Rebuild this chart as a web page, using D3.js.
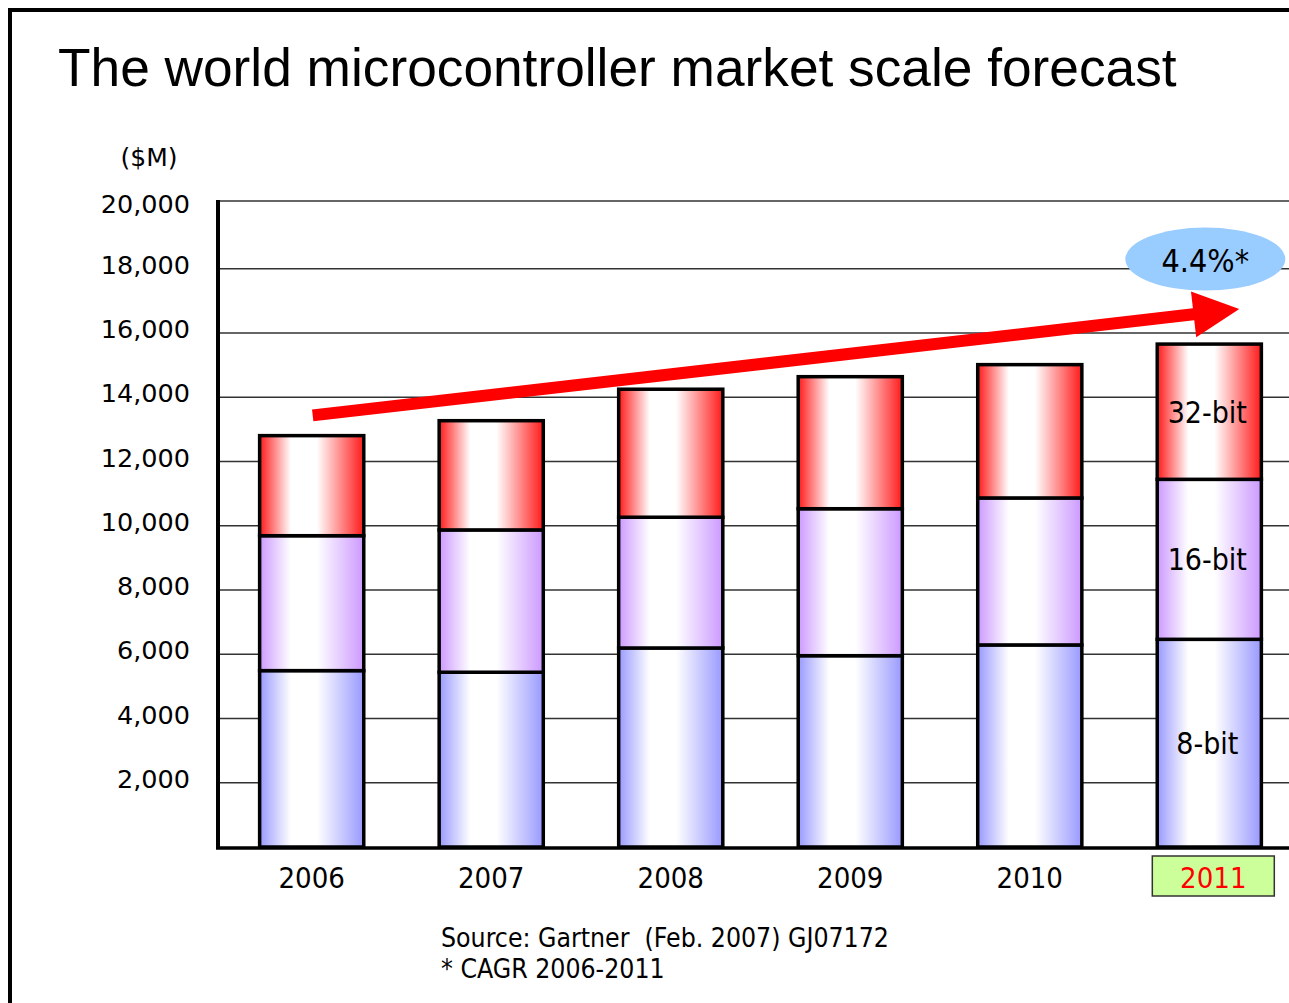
<!DOCTYPE html>
<html>
<head>
<meta charset="utf-8">
<script src="https://cdn.jsdelivr.net/npm/d3@7"></script>
<style>
  html, body { margin: 0; padding: 0; background: #ffffff; }
  svg { display: block; }
  .cond { font-family: "DejaVu Sans Condensed", "DejaVu Sans", sans-serif; font-stretch: condensed; }
  .reg { font-family: "DejaVu Sans", sans-serif; }
  .title { font-family: "Liberation Sans", Arial, sans-serif; }
</style>
</head>
<body>
<svg id="chart" width="1289" height="1003"></svg>
<script>
// Microcontroller market by core width, $M (Gartner, Feb. 2007)
const years = ["2006", "2007", "2008", "2009", "2010", "2011"];
const bit8  = [5490, 5440, 6195, 5955, 6290, 6465];
const bit16 = [4200, 4430, 4070, 4575, 4575, 4980];
const bit32 = [3115, 3400, 3985, 4110, 4150, 4210];
const seriesNames = ["8-bit", "16-bit", "32-bit"];
const yTicks = [2000, 4000, 6000, 8000, 10000, 12000, 14000, 16000, 18000, 20000];
const cagrLabel = "4.4%*";
const highlightYear = "2011";
const titleText = "The world microcontroller market scale forecast";
const unitLabel = "($M)";
const sourceLines = ["Source: Gartner  (Feb. 2007) GJ07172", "* CAGR 2006-2011"];

const W = 1289, H = 1003;
const svg = d3.select("#chart");

const rows = years.map((y, i) => ({ year: y, "8-bit": bit8[i], "16-bit": bit16[i], "32-bit": bit32[i] }));
const stacked = d3.stack().keys(seriesNames)(rows);

const x = d3.scaleBand().domain(years).range([217, 1304]).paddingInner(0.42).paddingOuter(0.2375);
const y = d3.scaleLinear().domain([0, 20000]).range([847, 204.5]);
const cx = d => x(d) + x.bandwidth() / 2;
const plotTop = 201;

// Horizontal cylinder-like gradients for each series
const defs = svg.append("defs");
const gradColors = { "8-bit": "#9999ff", "16-bit": "#cc99ff", "32-bit": "#ff1a1a" };
seriesNames.forEach((k, i) => {
  const g = defs.append("linearGradient").attr("id", "grad" + i)
    .attr("x1", "0").attr("x2", "1").attr("y1", "0").attr("y2", "0");
  const c = gradColors[k];
  [[0, c], [0.3, "#ffffff"], [0.55, "#ffffff"], [1, c]].forEach(s => {
    g.append("stop").attr("offset", s[0]).attr("stop-color", s[1]);
  });
});

// Outer frame (top and left edges)
svg.append("path").attr("d", `M10,${H} V10 H${W}`)
  .attr("fill", "none").attr("stroke", "#000").attr("stroke-width", 4);

// Title, sized to its measured width
const title = svg.append("text").attr("class", "title")
  .attr("x", 58).attr("y", 86).attr("font-size", 53).attr("fill", "#000").text(titleText);
const tw = title.node().getComputedTextLength();
if (tw > 0) title.attr("font-size", 53 * 1119 / tw);

// Gridlines (the top one doubles as the plot-area border)
svg.append("g").selectAll("line").data(yTicks).join("line")
  .attr("x1", 217).attr("x2", W)
  .attr("y1", d => d === 20000 ? plotTop : y(d)).attr("y2", d => d === 20000 ? plotTop : y(d))
  .attr("stroke", "#333").attr("stroke-width", 1.6);

// Y tick labels
svg.append("g").selectAll("text").data(yTicks).join("text")
  .attr("class", "reg").attr("x", 190).attr("y", d => y(d) + (d === 20000 ? 8 : 5))
  .attr("text-anchor", "end").attr("font-size", 25.5).attr("fill", "#000")
  .text(d => d3.format(",")(d));

svg.append("text").attr("class", "reg").attr("x", 149).attr("y", 166)
  .attr("text-anchor", "middle").attr("font-size", 25).attr("fill", "#000").text(unitLabel);

// Axis lines
svg.append("line").attr("x1", 218).attr("x2", 218).attr("y1", plotTop - 1).attr("y2", y(0) + 2)
  .attr("stroke", "#000").attr("stroke-width", 4);
svg.append("line").attr("x1", 216).attr("x2", W).attr("y1", y(0) + 1).attr("y2", y(0) + 1)
  .attr("stroke", "#000").attr("stroke-width", 3.5);

// Stacked bars
const layers = svg.append("g").selectAll("g").data(stacked).join("g")
  .attr("fill", (d, i) => `url(#grad${i})`);
layers.selectAll("rect").data(d => d).join("rect")
  .attr("x", d => x(d.data.year))
  .attr("width", x.bandwidth())
  .attr("y", d => y(d[1]))
  .attr("height", d => y(d[0]) - y(d[1]))
  .attr("stroke", "#000").attr("stroke-width", 3.5);

// Series labels on the last bar
const last = years.length - 1;
svg.append("g").selectAll("text").data(stacked).join("text")
  .attr("class", "cond")
  .attr("x", cx(years[last]) - 2)
  .attr("y", d => (y(d[last][0]) + y(d[last][1])) / 2 + 11)
  .attr("text-anchor", "middle").attr("font-size", 30).attr("fill", "#000")
  .text(d => d.key);

// Year labels, with the forecast year highlighted
const hx = cx(highlightYear) + 4;
svg.append("rect").attr("x", hx - 61).attr("y", 856).attr("width", 122).attr("height", 40)
  .attr("fill", "#ccff99").attr("stroke", "#333").attr("stroke-width", 1.5);
svg.append("g").selectAll("text").data(years).join("text")
  .attr("class", "cond")
  .attr("x", d => d === highlightYear ? hx : cx(d)).attr("y", 888)
  .attr("text-anchor", "middle").attr("font-size", 29)
  .attr("fill", d => d === highlightYear ? "#ff0000" : "#000")
  .text(d => d);

// Growth trend arrow from 2006 to beyond 2011
const totals = rows.map(r => r["8-bit"] + r["16-bit"] + r["32-bit"]);
const ax0 = cx(years[0]) + 1, ay0 = y(totals[0] + 630);
const ax1 = cx(years[last]) + 30, ay1 = y(totals[last] + 1090);
const ang = Math.atan2(ay1 - ay0, ax1 - ax0);
const headLen = 46, headHalf = 23;
const bx = ax1 - headLen * Math.cos(ang), by = ay1 - headLen * Math.sin(ang);
svg.append("line").attr("x1", ax0).attr("y1", ay0).attr("x2", bx + 2 * Math.cos(ang)).attr("y2", by + 2 * Math.sin(ang))
  .attr("stroke", "#ff0000").attr("stroke-width", 12);
const nx = -Math.sin(ang), ny = Math.cos(ang);
svg.append("path")
  .attr("d", `M${ax1},${ay1} L${bx + nx * headHalf},${by + ny * headHalf} L${bx - nx * headHalf},${by - ny * headHalf} Z`)
  .attr("fill", "#ff0000");

// CAGR bubble
const ex = cx(years[last]) - 4, ey = y(18300);
svg.append("ellipse").attr("cx", ex).attr("cy", ey).attr("rx", 80).attr("ry", 31.5).attr("fill", "#99ccff");
svg.append("text").attr("class", "cond").attr("x", ex).attr("y", ey + 13)
  .attr("text-anchor", "middle").attr("font-size", 32).attr("fill", "#000").text(cagrLabel);

// Source notes
svg.append("g").selectAll("text").data(sourceLines).join("text")
  .attr("class", "cond").attr("x", 441).attr("y", (d, i) => 947 + i * 31)
  .attr("font-size", 26.4).attr("fill", "#000").attr("xml:space", "preserve")
  .style("white-space", "pre")
  .text(d => d);
</script>
</body>
</html>
